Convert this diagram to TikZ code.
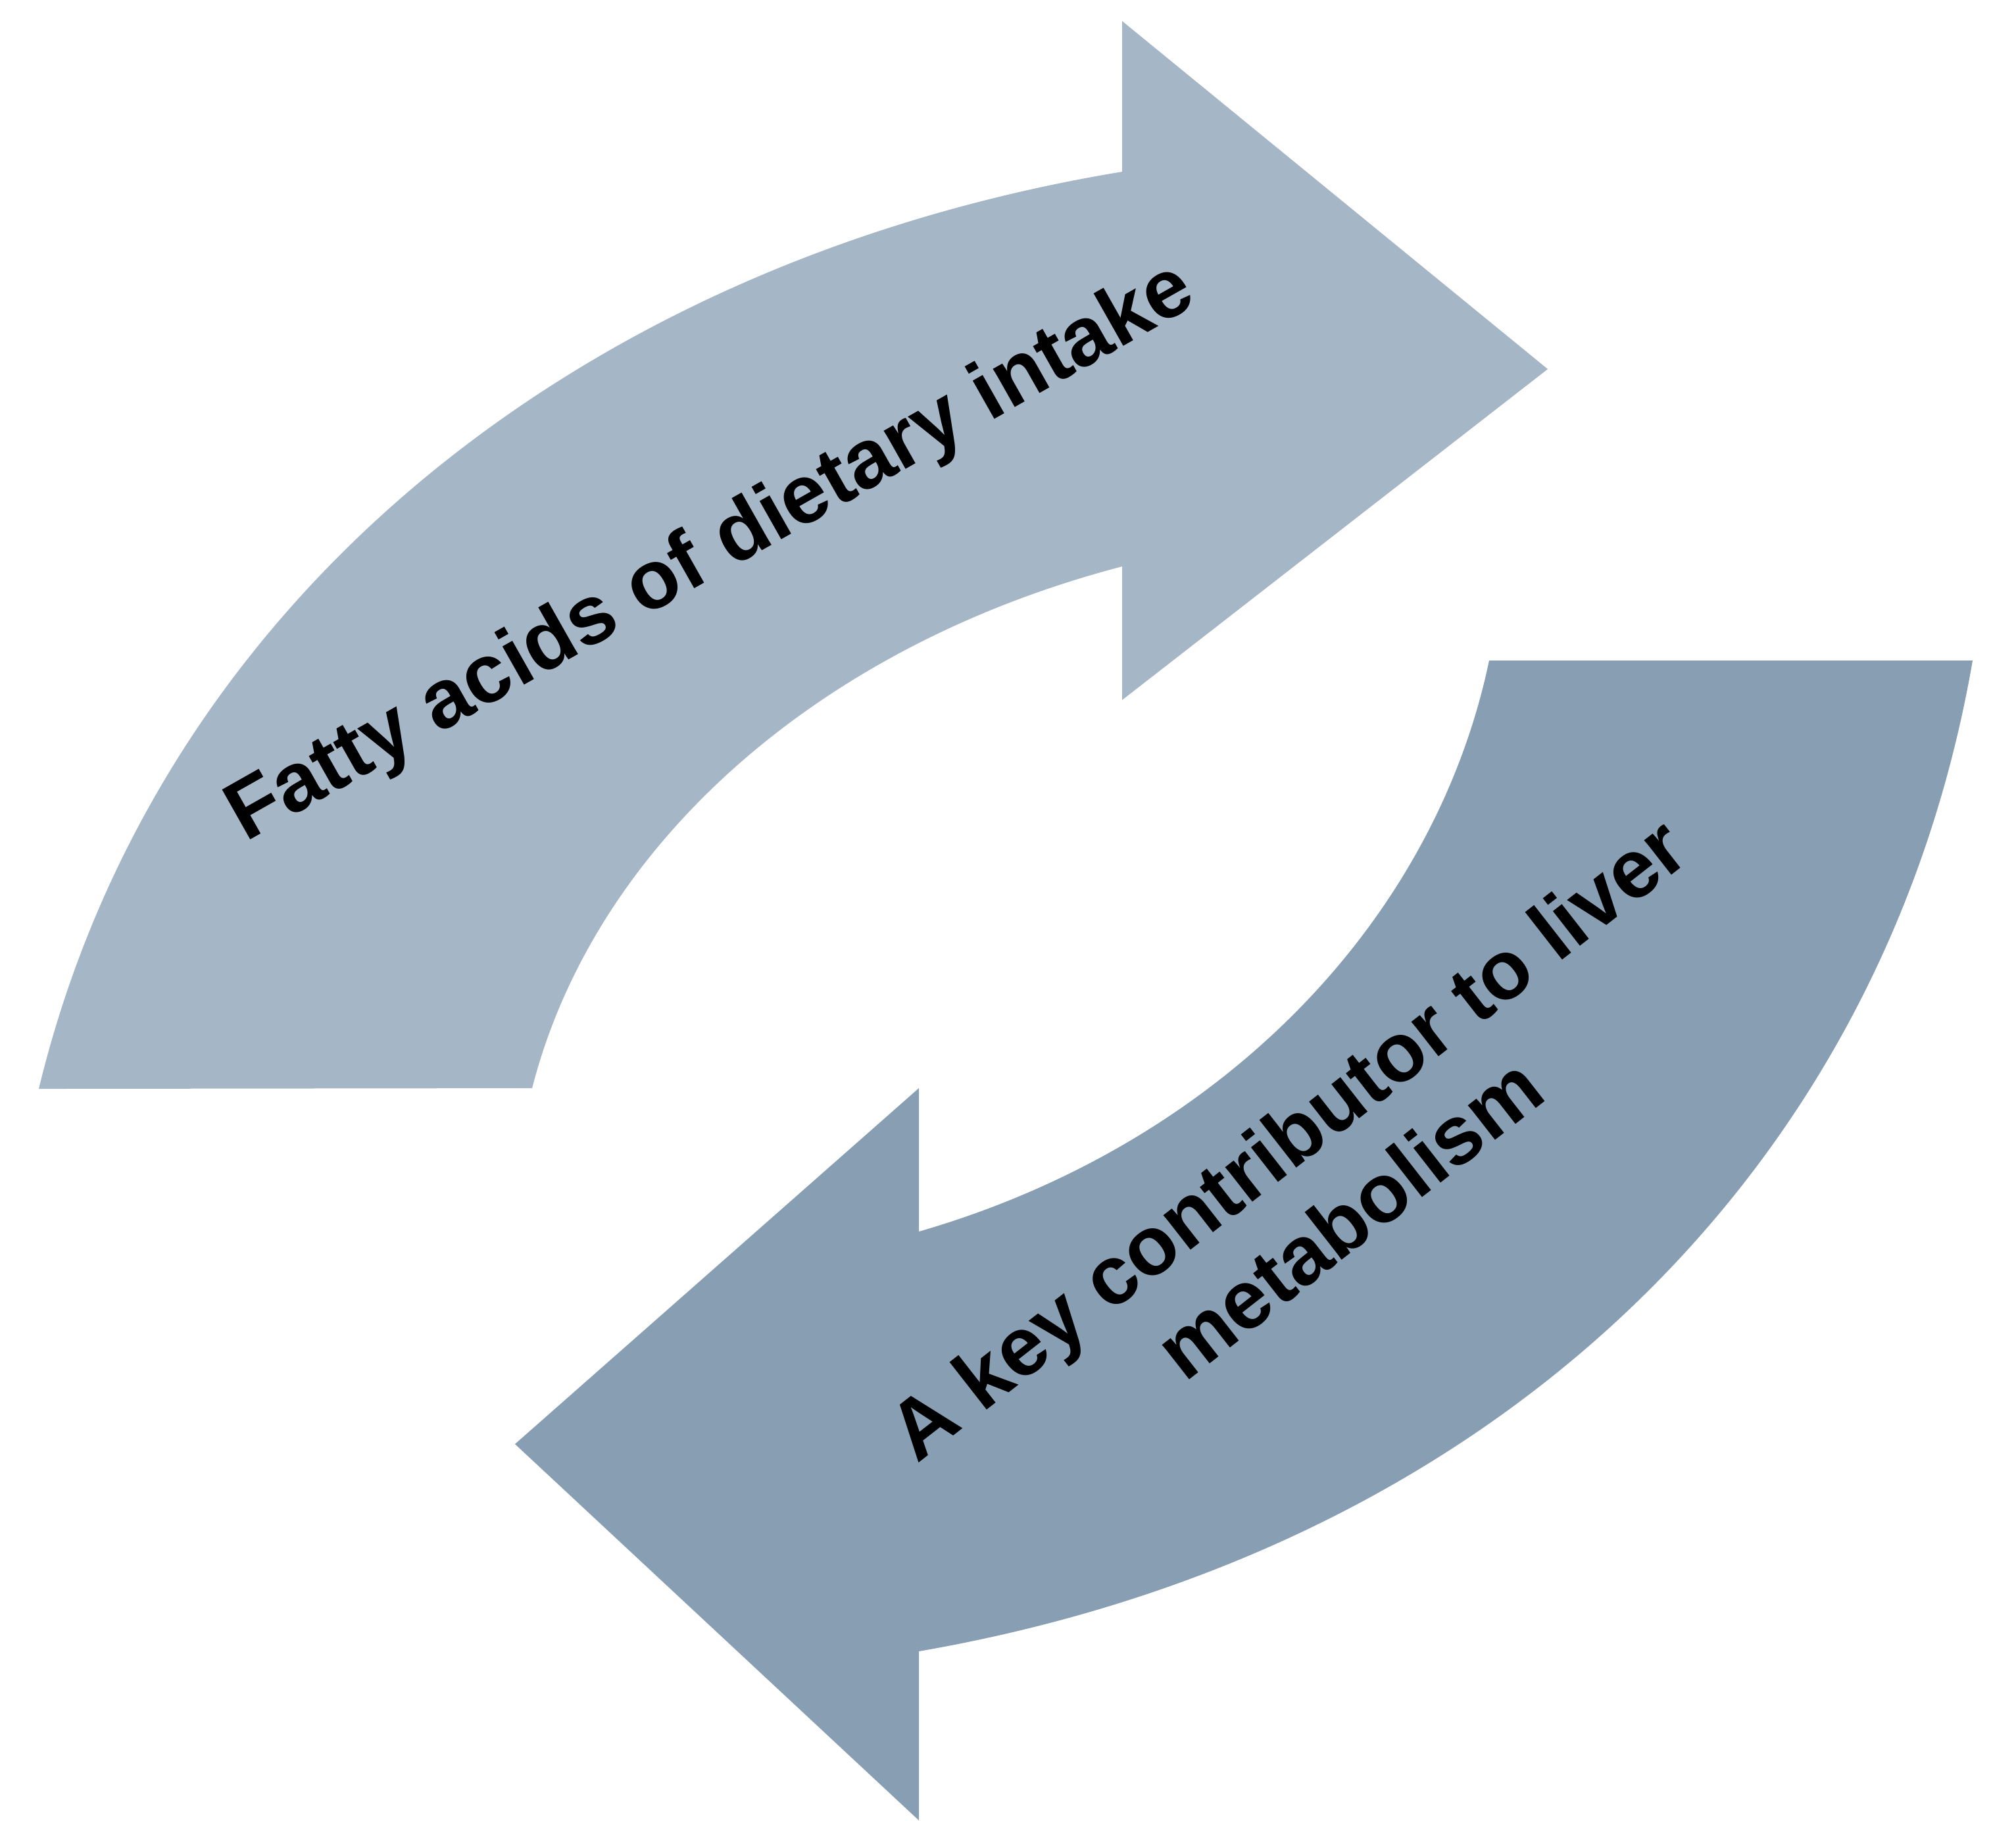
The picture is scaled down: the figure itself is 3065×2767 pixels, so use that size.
\documentclass[tikz,border=0pt]{standalone}
\usepackage{fontspec}
\setmainfont{Liberation Sans}
\definecolor{intakeblue}{HTML}{A5B6C6}
\definecolor{liverblue}{HTML}{889FB3}

\begin{document}
\begin{tikzpicture}[x=0.005cm, y=-0.005cm,
    intakearrow/.style={fill=intakeblue},
    liverarrow/.style={fill=liverblue},
    arrowtext/.style={font=\bfseries\fontsize{18}{21.8}\selectfont, text=black, inner sep=0pt, align=center}]
    \useasboundingbox (0,0) rectangle (3065,2767);
    \fill[intakearrow] (59,1655) .. controls (238,915) and (878,398) .. (1706,261)
        -- (1706,32) -- (2353,561) -- (1706,1064) -- (1706,861)
        .. controls (1246,981) and (904,1283) .. (809,1654) -- cycle;
    \fill[liverarrow] (2999,1004) .. controls (2863,1790) and (2262,2360) .. (1397,2510)
        -- (1397,2767) -- (783,2195) -- (1397,1654) -- (1397,1872)
        .. controls (1847,1742) and (2179,1409) .. (2264,1004) -- cycle;
    \node[arrowtext, rotate=29.5, anchor=base] (intake) at (1098,871) {Fatty acids of dietary intake};
    \node[arrowtext, rotate=38] (liver) at (2003,1790) {A key contributor to liver\\metabolism};
\end{tikzpicture}
\end{document}
